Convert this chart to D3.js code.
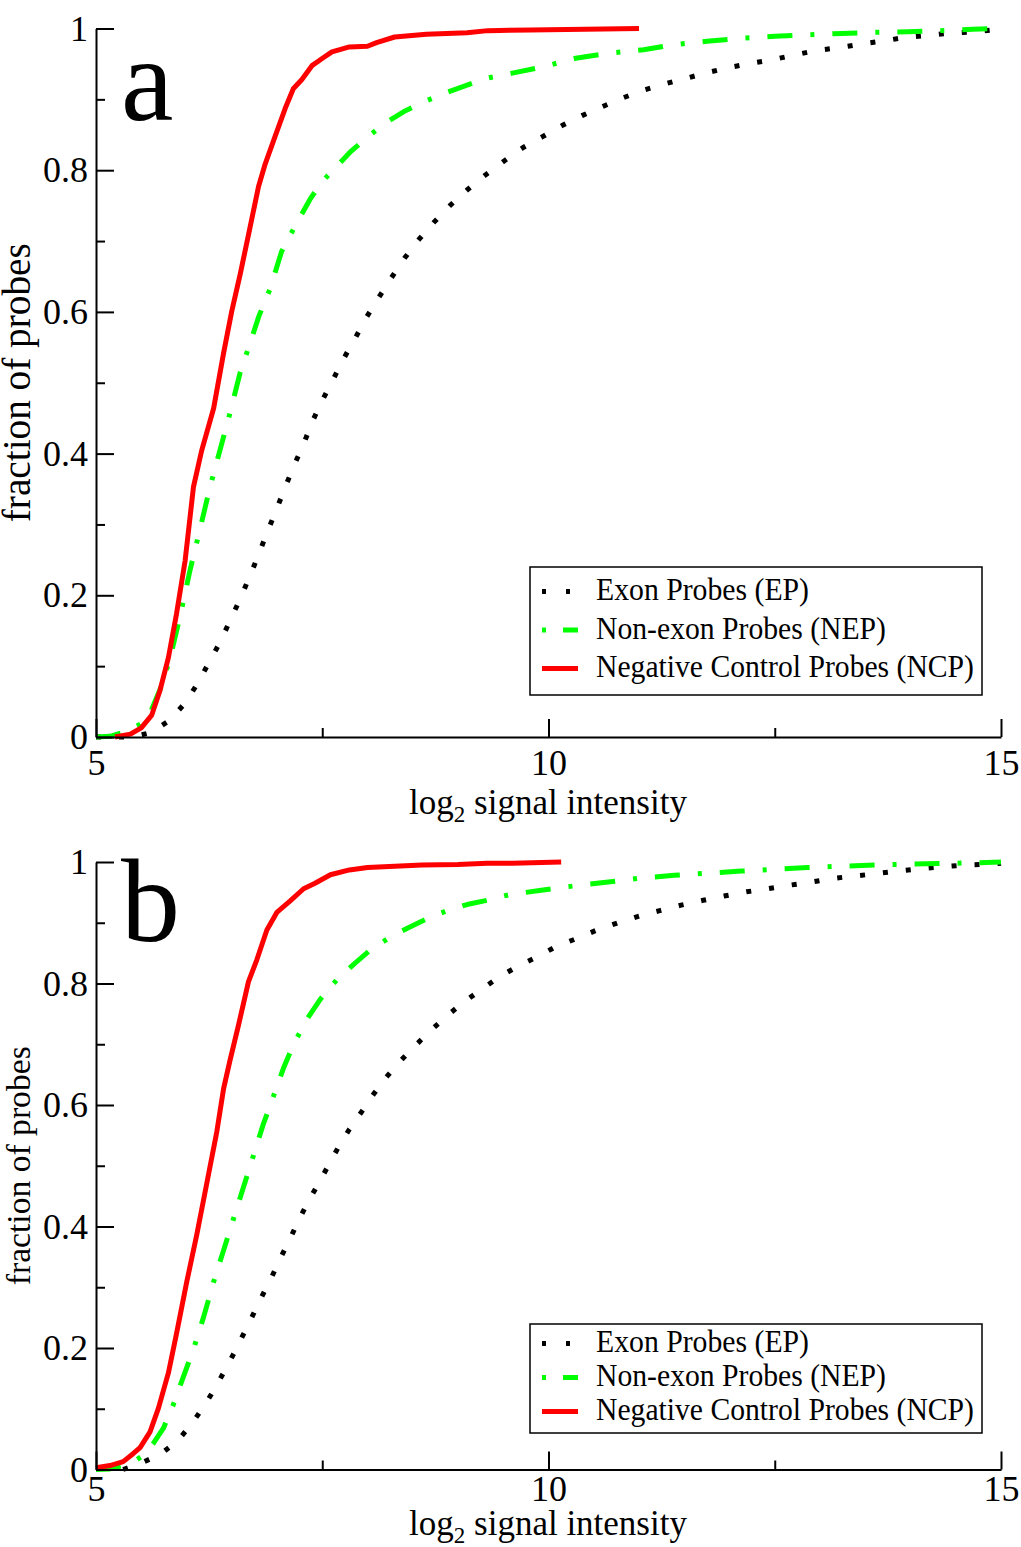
<!DOCTYPE html>
<html>
<head>
<meta charset="utf-8">
<script src="https://cdn.jsdelivr.net/npm/d3@7"></script>
<style>
  html, body { margin: 0; padding: 0; background: #fff; }
  svg { display: block; }
</style>
</head>
<body>
<div id="chart"></div>
<script>
// Cumulative fraction of probes vs log2 signal intensity, two stacked panels.
var xTicksMajor = [5, 10, 15];
var xTicksMinor = [7.5, 12.5];
var yTicksMajor = [0, 0.2, 0.4, 0.6, 0.8, 1];
var yTicksMinor = [0.1, 0.3, 0.5, 0.7, 0.9];
var seriesNames = ['Exon Probes (EP)', 'Non-exon Probes (NEP)', 'Negative Control Probes (NCP)'];
var legendWidths = [213, 290, 378];

// panel a
var epA = [[5.0,0],[5.4,0.0],[5.6,0.006],[5.81,0.023],[5.985,0.048],[6.12,0.075],[6.243,0.104],[6.372,0.134],
  [6.48,0.164],[6.593,0.195],[6.696,0.226],[6.796,0.257],[6.888,0.288],[6.987,0.319],[7.083,0.35],[7.183,0.382],
  [7.293,0.413],[7.386,0.444],[7.496,0.474],[7.618,0.504],[7.736,0.534],[7.865,0.563],[7.987,0.592],[8.123,0.62],
  [8.263,0.648],[8.41,0.676],[8.566,0.702],[8.73,0.726],[8.91,0.75],[9.1,0.772],[9.3,0.793],[9.51,0.813],
  [9.72,0.832],[9.93,0.847],[10.15,0.863],[10.37,0.877],[10.6,0.89],[10.82,0.902],[11.05,0.913],[11.29,0.922],
  [11.53,0.93],[11.76,0.938],[12.0,0.945],[12.24,0.951],[12.48,0.956],[12.73,0.963],[12.96,0.969],[13.21,0.973],
  [13.45,0.978],[13.68,0.982],[13.92,0.987],[14.17,0.99],[14.4,0.993],[14.67,0.995],[14.9,0.998],[15.0,0.999]];
var nepA = [[5.0,0],[5.155,0.001],[5.34,0.008],[5.49,0.018],[5.6,0.034],[5.726,0.073],[5.82,0.112],[5.93,0.171],
  [6.04,0.236],[6.15,0.294],[6.26,0.353],[6.37,0.405],[6.48,0.457],[6.59,0.513],[6.7,0.555],[6.8,0.594],
  [6.925,0.633],[7.05,0.685],[7.22,0.726],[7.37,0.76],[7.5,0.784],[7.64,0.803],[7.82,0.827],[8.03,0.85],
  [8.215,0.868],[8.42,0.884],[8.65,0.898],[8.88,0.91],[9.1,0.92],[9.32,0.93],[9.6,0.937],[9.94,0.946],
  [10.3,0.958],[10.66,0.965],[11.05,0.97],[11.38,0.977],[11.75,0.982],[12.1,0.986],[12.5,0.989],[12.83,0.991],
  [13.24,0.993],[13.6,0.9946],[13.97,0.9955],[14.33,0.997],[14.69,0.999],[15.0,1.0]];
var ncpA = [[5.21,0],[5.38,0.004],[5.5,0.013],[5.616,0.031],[5.708,0.066],[5.8,0.112],[5.89,0.174],[5.985,0.249],
  [6.077,0.353],[6.169,0.405],[6.3,0.464],[6.41,0.542],[6.5,0.601],[6.593,0.653],[6.7,0.718],[6.796,0.777],
  [6.87,0.809],[6.98,0.848],[7.09,0.887],[7.18,0.915],[7.275,0.928],[7.39,0.948],[7.515,0.959],[7.607,0.967],
  [7.8,0.974],[8.0,0.975],[8.1,0.98],[8.3,0.988],[8.65,0.992],[9.1,0.994],[9.33,0.997],[9.8,0.998],
  [10.4,0.999],[11.0,1.0]];

// panel b
var epB = [[5.3,0],[5.487,0.0098],[5.708,0.0247],[5.9,0.047],[6.047,0.073],[6.187,0.103],[6.305,0.131],[6.423,0.163],
  [6.527,0.192],[6.63,0.223],[6.733,0.254],[6.833,0.285],[6.936,0.315],[7.035,0.347],[7.139,0.378],[7.238,0.41],
  [7.341,0.44],[7.459,0.471],[7.57,0.501],[7.68,0.531],[7.8,0.56],[7.94,0.59],[8.068,0.618],[8.208,0.646],
  [8.36,0.672],[8.53,0.698],[8.7,0.723],[8.88,0.747],[9.06,0.769],[9.257,0.79],[9.457,0.811],[9.657,0.828],
  [9.878,0.844],[10.085,0.861],[10.31,0.874],[10.535,0.888],[10.77,0.9],[11.0,0.911],[11.23,0.92],[11.465,0.929],
  [11.71,0.937],[11.94,0.944],[12.19,0.951],[12.42,0.956],[12.67,0.962],[12.91,0.967],[13.14,0.973],[13.39,0.977],
  [13.63,0.981],[13.86,0.985],[14.11,0.989],[14.35,0.992],[14.59,0.995],[14.84,0.996],[15.0,0.998]];
var nepB = [[5.0,0],[5.155,0.001],[5.3,0.0065],[5.45,0.016],[5.52,0.023],[5.63,0.042],[5.745,0.068],[5.855,0.107],
  [5.966,0.153],[6.077,0.198],[6.187,0.25],[6.3,0.309],[6.41,0.361],[6.52,0.413],[6.63,0.465],[6.74,0.517],
  [6.85,0.569],[6.96,0.614],[7.07,0.66],[7.18,0.699],[7.33,0.741],[7.478,0.774],[7.66,0.806],[7.85,0.832],
  [8.03,0.855],[8.215,0.873],[8.44,0.891],[8.66,0.907],[8.88,0.92],[9.1,0.93],[9.32,0.937],[9.56,0.946],
  [9.94,0.954],[10.3,0.961],[10.66,0.967],[11.05,0.974],[11.39,0.978],[11.8,0.982],[12.13,0.985],[12.5,0.988],
  [12.86,0.991],[13.24,0.993],[13.6,0.995],[13.97,0.9964],[14.3,0.9975],[14.69,0.9985],[15.0,1.0]];
var ncpB = [[5.0,0.003],[5.155,0.0065],[5.3,0.013],[5.41,0.026],[5.487,0.036],[5.597,0.062],[5.69,0.101],[5.8,0.159],
  [5.89,0.224],[6.003,0.309],[6.114,0.387],[6.224,0.471],[6.335,0.556],[6.41,0.627],[6.48,0.673],[6.574,0.731],
  [6.685,0.803],[6.777,0.839],[6.888,0.888],[6.998,0.917],[7.146,0.936],[7.294,0.956],[7.42,0.965],[7.59,0.979],
  [7.8,0.987],[8.0,0.991],[8.3,0.993],[8.6,0.995],[9.0,0.996],[9.32,0.998],[9.6,0.998],[10.14,1.0]];

var W = 1021, H = 1547;
var FONT = '"Liberation Serif", "DejaVu Serif", serif';

var svg = d3.select('#chart').append('svg')
    .attr('width', W).attr('height', H)
    .attr('viewBox', '0 0 ' + W + ' ' + H);

var styles = [
  { color: '#000000', dash: '5 18',        legendDash: '4 20' },
  { color: '#00ff00', dash: '25 18 4 18',  legendDash: '4 17 15 100' },
  { color: '#ff0000', dash: null,          legendDash: null }
];

var panels = [
  { label: 'a', series: [epA, nepA, ncpA], y0: 737, y1: 28.5,
    xLabPad: 12, xTitleY: 814, yTitleLen: 279, yTitleSize: 40,
    legend: { x: 530, y: 567, w: 452, h: 128, row0: 600, rowH: 38.5 } },
  { label: 'b', series: [epB, nepB, ncpB], y0: 1469.5, y1: 862,
    xLabPad: 6, xTitleY: 1535, yTitleLen: 239, yTitleSize: 34.5,
    legend: { x: 530, y: 1324, w: 452, h: 109, row0: 1352, rowH: 34 } }
];

panels.forEach(function (p) {
  var x = d3.scaleLinear().domain([5, 15]).range([96, 1001]);
  var y = d3.scaleLinear().domain([0, 1]).range([p.y0, p.y1]);
  var g = svg.append('g');

  // curves (drawn EP, NEP, NCP so red ends up on top)
  var line = d3.line()
      .x(function (d) { return x(d[0]); })
      .y(function (d) { return y(d[1]); });
  p.series.forEach(function (s, i) {
    g.append('path').datum(s)
      .attr('d', line)
      .attr('fill', 'none')
      .attr('stroke', styles[i].color)
      .attr('stroke-width', 5)
      .attr('stroke-linejoin', 'round')
      .attr('stroke-dasharray', styles[i].dash);
  });

  // axes: ticks point inward, only left and bottom spines
  var ax = g.append('g').attr('transform', 'translate(0,' + p.y0 + ')');
  ax.call(d3.axisBottom(x).tickValues(xTicksMajor).tickSize(-18).tickSizeOuter(0)
      .tickPadding(p.xLabPad).tickFormat(d3.format('d')));
  var axm = g.append('g').attr('transform', 'translate(0,' + p.y0 + ')');
  axm.call(d3.axisBottom(x).tickValues(xTicksMinor).tickSize(-9).tickSizeOuter(0).tickFormat(''));
  axm.select('.domain').remove();

  var ay = g.append('g').attr('transform', 'translate(96,0)');
  ay.call(d3.axisLeft(y).tickValues(yTicksMajor).tickSize(-18).tickSizeOuter(0)
      .tickPadding(8).tickFormat(function (d) { return d === 0 ? '0' : d === 1 ? '1' : d3.format('.1f')(d); }));
  var aym = g.append('g').attr('transform', 'translate(96,0)');
  aym.call(d3.axisLeft(y).tickValues(yTicksMinor).tickSize(-9).tickSizeOuter(0).tickFormat(''));
  aym.select('.domain').remove();

  [ax, axm, ay, aym].forEach(function (a) {
    a.selectAll('path, line').attr('stroke', '#000').attr('stroke-width', 2);
    a.selectAll('text').attr('font-family', FONT).attr('font-size', 36).attr('fill', '#000');
  });

  // axis titles
  var xt = svg.append('text')
      .attr('x', 548).attr('y', p.xTitleY)
      .attr('text-anchor', 'middle')
      .attr('font-family', FONT).attr('font-size', 35).attr('fill', '#000');
  xt.append('tspan').text('log');
  xt.append('tspan').attr('font-size', 23).attr('dy', 8).text('2');
  xt.append('tspan').attr('dy', -8).text(' signal intensity');

  svg.append('text')
      .attr('transform', 'translate(30,' + ((p.y0 + p.y1) / 2) + ') rotate(-90)')
      .attr('text-anchor', 'middle')
      .attr('font-family', FONT).attr('font-size', p.yTitleSize).attr('fill', '#000')
      .attr('textLength', p.yTitleLen).attr('lengthAdjust', 'spacingAndGlyphs')
      .text('fraction of probes');

  // panel letter
  svg.append('text')
      .attr('x', 121).attr('y', p.label === 'a' ? 120 : 941)
      .attr('font-family', FONT).attr('font-size', 118).attr('fill', '#000')
      .text(p.label);

  // legend
  var L = p.legend;
  svg.append('rect')
      .attr('x', L.x).attr('y', L.y).attr('width', L.w).attr('height', L.h)
      .attr('fill', '#fff').attr('stroke', '#000').attr('stroke-width', 1.5);
  seriesNames.forEach(function (name, i) {
    var by = L.row0 + i * L.rowH;
    svg.append('line')
        .attr('x1', 542).attr('x2', 578)
        .attr('y1', by - 8.5).attr('y2', by - 8.5)
        .attr('stroke', styles[i].color).attr('stroke-width', 5)
        .attr('stroke-dasharray', styles[i].legendDash);
    svg.append('text')
        .attr('x', 596).attr('y', by)
        .attr('font-family', FONT).attr('font-size', 31).attr('fill', '#000')
        .attr('textLength', legendWidths[i]).attr('lengthAdjust', 'spacingAndGlyphs')
        .text(name);
  });
});
</script>
</body>
</html>
